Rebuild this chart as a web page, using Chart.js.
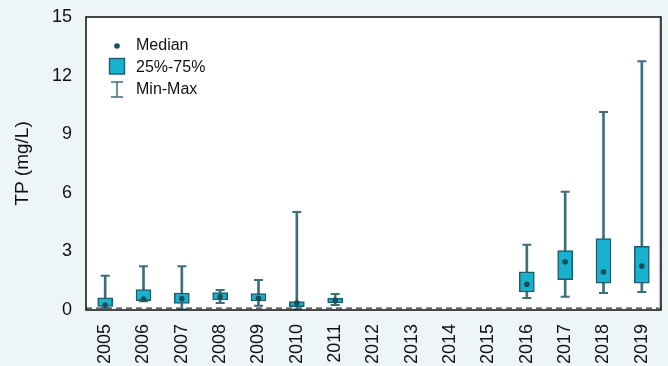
<!DOCTYPE html>
<html>
<head>
<meta charset="utf-8">
<title>TP box plot 2005-2019</title>
<script src="https://cdn.jsdelivr.net/npm/chart.js@4/dist/chart.umd.min.js"></script>
<style>
  html, body { margin: 0; padding: 0; background: #EEF5F7; }
  canvas { display: block; }
</style>
</head>
<body>
<canvas id="chart" width="668" height="366"></canvas>
<script>
// Yearly total phosphorus summary (mg/L); years without samples are null.
const years = ['2005','2006','2007','2008','2009','2010','2011','2012','2013','2014','2015','2016','2017','2018','2019'];
const minValues    = [0.10, 0.45, 0.02, 0.36, 0.22, 0.02, 0.26, null, null, null, null, 0.61, 0.68, 0.87, 0.92];
const q1Values     = [0.18, 0.48, 0.34, 0.51, 0.46, 0.17, 0.36, null, null, null, null, 0.92, 1.55, 1.37, 1.37];
const medianValues = [0.25, 0.56, 0.58, 0.68, 0.60, 0.36, 0.48, null, null, null, null, 1.32, 2.47, 1.95, 2.25];
const q3Values     = [0.62, 1.04, 0.87, 0.89, 0.84, 0.43, 0.61, null, null, null, null, 1.95, 3.04, 3.65, 3.26];
const maxValues    = [1.75, 2.24, 2.24, 1.02, 1.54, 5.02, 0.82, null, null, null, null, 3.34, 6.06, 10.14, 12.73];
const yTicks = [0, 3, 6, 9, 12, 15];
const referenceLevel = 0.1;

const BOX_FILL = '#19B2CE';
const BOX_EDGE = '#1D5C6B';
const WHISKER = '#3F6E7B';
const MEDIAN = '#174D5A';
const TEXT = '#111111';
const FONT = "'Liberation Sans', Arial, sans-serif";

const pair = (a, b) => a.map((v, i) => (v == null || b[i] == null) ? null : [v, b[i]]);

// White plot area, frame, dashed reference line and inline legend.
const decor = {
  id: 'decor',
  beforeDatasetsDraw(chart) {
    const { ctx, chartArea: a, scales: { y } } = chart;
    ctx.save();
    ctx.fillStyle = '#FFFFFF';
    ctx.fillRect(a.left, a.top, a.right - a.left, a.bottom - a.top);
    const yy = y.getPixelForValue(referenceLevel);
    ctx.strokeStyle = '#333333';
    ctx.lineWidth = 1.2;
    ctx.setLineDash([6, 4]);
    ctx.beginPath();
    ctx.moveTo(a.left, yy);
    ctx.lineTo(a.right, yy);
    ctx.stroke();
    ctx.restore();
  },
  afterDatasetsDraw(chart) {
    const { ctx, chartArea: a } = chart;
    ctx.save();
    // frame
    ctx.strokeStyle = '#BFC6C8';
    ctx.lineWidth = 1;
    ctx.beginPath();
    ctx.moveTo(a.right - 1.5, a.top + 1);
    ctx.lineTo(a.right - 1.5, a.bottom - 1.5);
    ctx.stroke();
    ctx.strokeStyle = '#1A1A1A';
    ctx.lineWidth = 1.6;
    ctx.strokeRect(a.left, a.top, a.right - a.left, a.bottom - a.top);

    // legend
    ctx.font = '16px ' + FONT;
    ctx.textBaseline = 'middle';
    ctx.textAlign = 'left';
    const ix = 117, tx = 136;
    ctx.fillStyle = MEDIAN;
    ctx.beginPath();
    ctx.arc(ix, 46, 2.8, 0, Math.PI * 2);
    ctx.fill();
    ctx.fillStyle = BOX_FILL;
    ctx.fillRect(109.5, 58.5, 15, 15.5);
    ctx.strokeStyle = BOX_EDGE;
    ctx.lineWidth = 1.4;
    ctx.strokeRect(109.5, 58.5, 15, 15.5);
    ctx.strokeStyle = WHISKER;
    ctx.lineWidth = 1.5;
    ctx.beginPath();
    ctx.moveTo(ix, 82); ctx.lineTo(ix, 97);
    ctx.moveTo(ix - 6, 82); ctx.lineTo(ix + 6, 82);
    ctx.moveTo(ix - 6, 97); ctx.lineTo(ix + 6, 97);
    ctx.stroke();
    ctx.fillStyle = TEXT;
    ctx.fillText('Median', tx, 46);
    ctx.fillText('25%-75%', tx, 68);
    ctx.fillText('Min-Max', tx, 90);
    ctx.restore();
  }
};

const capStyle = {
  type: 'line',
  showLine: false,
  pointStyle: 'line',
  pointRadius: 4.5,
  pointBorderWidth: 2,
  borderColor: WHISKER,
  pointHoverRadius: 4.5,
  order: 2
};

new Chart(document.getElementById('chart'), {
  data: {
    labels: years,
    datasets: [
      {
        type: 'line', label: 'Median', data: medianValues, showLine: false,
        pointStyle: 'circle', pointRadius: 2.8, pointBackgroundColor: MEDIAN,
        pointBorderColor: MEDIAN, pointBorderWidth: 0, order: 0
      },
      {
        type: 'bar', label: '25%-75%', data: pair(q1Values, q3Values),
        backgroundColor: BOX_FILL, borderColor: BOX_EDGE, borderWidth: 1.5,
        borderSkipped: false, barThickness: 15, grouped: false, order: 1
      },
      Object.assign({ label: 'Max', data: maxValues }, capStyle),
      Object.assign({ label: 'Min', data: minValues }, capStyle),
      {
        type: 'bar', label: 'Min-Max', data: pair(minValues, maxValues),
        backgroundColor: WHISKER, borderWidth: 0, barThickness: 2,
        grouped: false, order: 3
      }
    ]
  },
  options: {
    responsive: false,
    animation: false,
    events: [],
    layout: { padding: { top: 17, right: 7, left: 0, bottom: 0 } },
    plugins: { legend: { display: false }, tooltip: { enabled: false } },
    scales: {
      x: {
        type: 'category',
        offset: true,
        grid: { display: false, drawTicks: false },
        border: { display: false },
        ticks: {
          color: TEXT, font: { family: FONT, size: 18 },
          minRotation: 90, maxRotation: 90, padding: 14, autoSkip: false
        },
        afterFit(s) { s.height = 56; s.paddingLeft = 0; s.paddingRight = 0; }
      },
      y: {
        min: 0, max: 15,
        grid: { display: false, drawTicks: false },
        border: { display: false },
        afterBuildTicks(s) { s.ticks = yTicks.map(v => ({ value: v })); },
        ticks: { color: TEXT, font: { family: FONT, size: 18 }, padding: 14 },
        title: {
          display: true, text: 'TP (mg/L)', color: TEXT,
          font: { family: FONT, size: 19 }, padding: { top: 11.5, bottom: 0 }
        },
        afterFit(s) { s.width = 86; s.paddingTop = 0; s.paddingBottom = 0; }
      }
    }
  },
  plugins: [decor]
});
</script>
</body>
</html>
